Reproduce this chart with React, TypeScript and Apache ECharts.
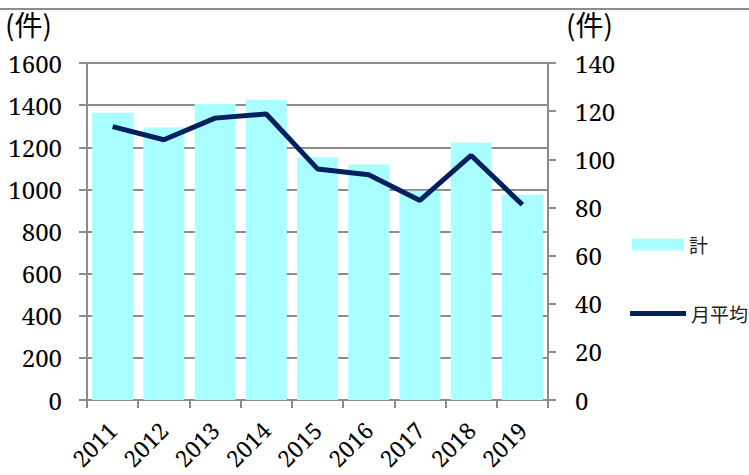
import React, { useEffect, useRef } from "react";
import * as echarts from "echarts";

const categories = ["2011", "2012", "2013", "2014", "2015", "2016", "2017", "2018", "2019"];
const totalValues = [1364, 1294, 1405, 1426, 1153, 1118, 993, 1223, 974];
const monthlyAvg = [113.6, 108.1, 117.1, 118.8, 96.0, 93.6, 82.9, 101.6, 81.1];
const unitLabel = "(件)";
const seriesNames = ["計", "月平均"];

const SERIF = "'Noto Serif', 'Liberation Serif', serif";
const CJK = "Noto Sans CJK JP";

const richNum = { n: { fontFamily: SERIF, fontSize: 24, color: "#000", fontWeight: "normal" } };
const richCat = { n: { fontFamily: SERIF, fontSize: 23, color: "#000", fontWeight: "normal" } };

export default function App() {
  const ref = useRef<HTMLDivElement>(null);
  useEffect(() => {
    if (!ref.current) return;
    const chart = echarts.init(ref.current, undefined, { renderer: "svg" });
    chart.setOption({
      animation: false,
      backgroundColor: "#ffffff",
      textStyle: { fontFamily: SERIF },
      grid: { left: 87, right: 201, top: 63, bottom: 75, containLabel: false },
      graphic: [
        {
          type: "line",
          shape: { x1: 0, y1: 9, x2: 749, y2: 9 },
          style: { stroke: "#8c8c8c", lineWidth: 2 },
        },
        {
          type: "text",
          left: 5,
          top: 10,
          style: { text: unitLabel, fontFamily: CJK, fontSize: 28, fill: "#000" },
        },
        {
          type: "text",
          left: 566,
          top: 10,
          style: { text: unitLabel, fontFamily: CJK, fontSize: 28, fill: "#000" },
        },
      ],
      legend: [
        {
          data: [seriesNames[0]],
          orient: "vertical",
          left: 627,
          top: 230,
          itemWidth: 52,
          itemHeight: 12,
          textStyle: { fontFamily: CJK, fontSize: 19, color: "#222" },
          icon: "rect",
        },
        {
          data: [seriesNames[1]],
          orient: "vertical",
          left: 625,
          top: 299,
          itemWidth: 56,
          itemHeight: 5,
          icon: "rect",
          textStyle: { fontFamily: CJK, fontSize: 19, color: "#222" },
        },
      ],
      xAxis: {
        type: "category",
        data: categories,
        boundaryGap: true,
        axisLine: { lineStyle: { color: "#8c8c8c", width: 2 } },
        axisTick: { show: true, length: 8, lineStyle: { color: "#8c8c8c", width: 2 } },
        axisLabel: {
          rotate: 45,
          margin: 26,
          fontFamily: SERIF,
          fontSize: 23,
          color: "#000",
          formatter: (v: string) => `{n|${v}}`,
          rich: richCat,
        },
      },
      yAxis: [
        {
          type: "value",
          min: 0,
          max: 1600,
          interval: 200,
          position: "left",
          axisLine: { show: true, lineStyle: { color: "#8c8c8c", width: 2 } },
          axisTick: { show: true, length: 8, lineStyle: { color: "#8c8c8c", width: 2 } },
          splitLine: { show: true, lineStyle: { color: "#8c8c8c", width: 2 } },
          axisLabel: {
            margin: 25,
            fontFamily: SERIF,
            fontSize: 24,
            color: "#000",
            formatter: (v: number) => `{n|${v}}`,
            rich: richNum,
          },
        },
        {
          type: "value",
          min: 0,
          max: 140,
          interval: 20,
          position: "right",
          axisLine: { show: true, lineStyle: { color: "#8c8c8c", width: 2 } },
          axisTick: { show: true, length: 8, lineStyle: { color: "#8c8c8c", width: 2 } },
          splitLine: { show: false },
          axisLabel: {
            margin: 27,
            fontFamily: SERIF,
            fontSize: 24,
            color: "#000",
            formatter: (v: number) => `{n|${v}}`,
            rich: richNum,
          },
        },
      ],
      series: [
        {
          name: seriesNames[0],
          type: "bar",
          yAxisIndex: 0,
          data: totalValues,
          barWidth: "80%",
          itemStyle: { color: "#a9ffff" },
        },
        {
          name: seriesNames[1],
          type: "line",
          yAxisIndex: 1,
          data: monthlyAvg,
          symbol: "none",
          lineStyle: { color: "#002060", width: 5 },
          itemStyle: { color: "#002060" },
        },
      ],
    });
    return () => chart.dispose();
  }, []);
  return <div ref={ref} style={{ width: 749, height: 475, position: "absolute", left: 0, top: 0 }} />;
}
